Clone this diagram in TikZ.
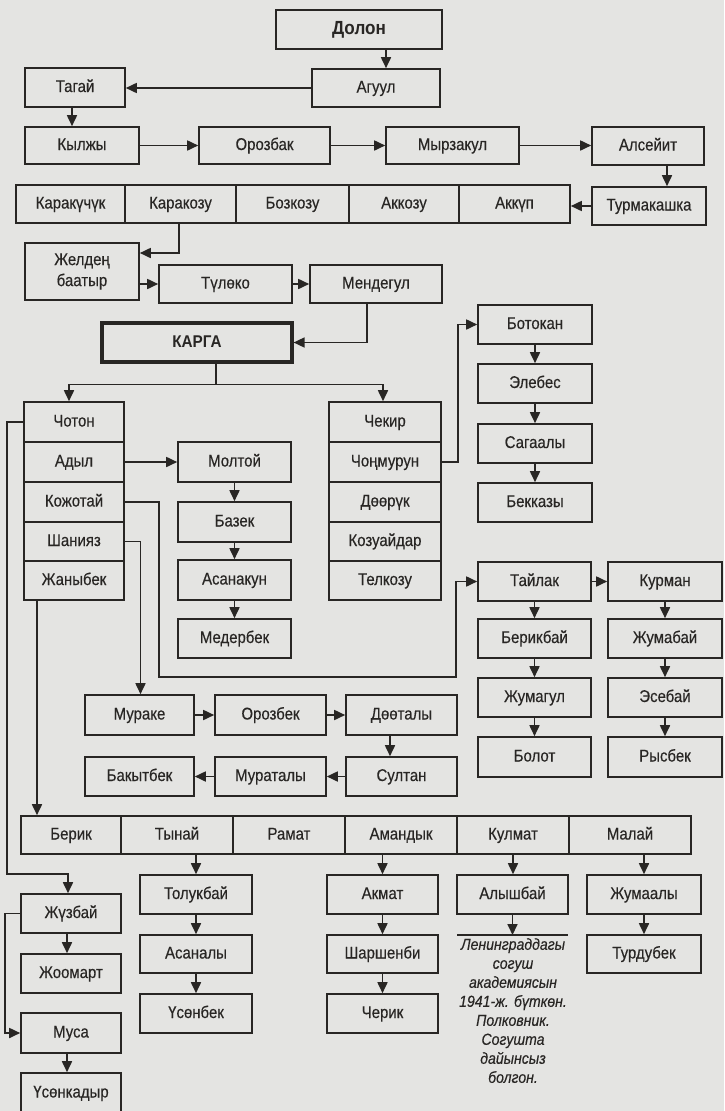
\documentclass[tikz,border=0pt]{standalone}
\usepackage{fontspec}
\setmainfont{Liberation Sans}[FakeStretch=0.88,FakeBold=0.35]
\newfontfamily\boldfam{Liberation Sans Bold}[FakeStretch=0.9]
\usetikzlibrary{arrows.meta}
\definecolor{ink}{RGB}{40,38,36}
\definecolor{paper}{RGB}{228,228,226}
\tikzset{
 box/.style={draw=ink, line width=1.6pt, inner sep=0pt, text=ink, align=center, font=\fontsize{17}{19}\selectfont, text height=12.5pt, text depth=3.5pt},
 arr/.style={draw=ink, line width=1.7pt, -{Triangle[length=11pt,width=10pt]}},
 ln/.style={draw=ink, line width=1.7pt},
 note/.style={text=ink, align=center, inner sep=0pt, font=\fontsize{16}{19}\itshape\selectfont},
}
\newcommand\B[7][]{\node[box,minimum width={(#4-#3)*1pt},minimum height={(#6-#5)*1pt},#1] (#2) at ({(#3+#4)/2},{(#5+#6)/2}) {#7};}
\begin{document}
\begin{tikzpicture}[x=1pt,y=-1pt]
\fill[paper] (0,0) rectangle (724,1111);
\useasboundingbox (0,0) rectangle (724,1111);
% row 1-3
\B[font=\fontsize{19}{21}\boldfam\selectfont, text height=14pt, text depth=4.5pt]{dol}{276}{442}{10}{49}{Долон}
\B{agu}{312}{440}{69}{107}{Агуул}
\B{tag}{25}{125}{68}{107}{Тагай}
\B{kyl}{25}{139}{127}{164}{Кылжы}
\B{oroz}{199}{330}{127}{164}{Орозбак}
\B{myr}{386}{519}{127}{164}{Мырзакул}
\B{als}{592}{704}{127}{165}{Алсейит}
% row 4
\B{karak}{16}{125}{185}{223}{Каракүчүк}
\B{karakoz}{125}{236}{185}{223}{Каракозу}
\B{boz}{236}{349}{185}{223}{Бозкозу}
\B{akkoz}{349}{459}{185}{223}{Аккозу}
\B{akkup}{459}{570}{185}{223}{Аккүп}
\B{tur}{592}{706}{187}{225}{Турмакашка}
% row 5
\B[text height={}, text depth={}, font=\fontsize{17}{21}\selectfont]{zhel}{25}{139}{243}{300}{Желдең\\баатыр}
\B{tul}{159}{292}{265}{303}{Түлөко}
\B{men}{310}{442}{265}{303}{Мендегул}
\B[line width=3.2pt,font=\fontsize{17}{19}\boldfam\selectfont]{karga}{102}{292}{323}{362}{КАРГА}
% Botokan column
\B{bot}{478}{592}{305}{344}{Ботокан}
\B{ele}{478}{592}{364}{403}{Элебес}
\B{sag}{478}{592}{424}{463}{Сагаалы}
\B{bek}{478}{592}{483}{522}{Бекказы}
% Choton column
\B{chot}{24}{124}{402}{442}{Чотон}
\B{adyl}{24}{124}{442}{482}{Адыл}
\B{kozh}{24}{124}{482}{522}{Кожотай}
\B{shan}{24}{124}{522}{561}{Шанияз}
\B{zhan}{24}{124}{561}{600}{Жаныбек}
% Chekir column
\B{chek}{329}{441}{402}{442}{Чекир}
\B{chon}{329}{441}{442}{482}{Чоңмурун}
\B{door}{329}{441}{482}{522}{Дөөрүк}
\B{kozu}{329}{441}{522}{561}{Козуайдар}
\B{telk}{329}{441}{561}{600}{Телкозу}
% Moltoy column
\B{molt}{178}{291}{442}{482}{Молтой}
\B{baz}{178}{291}{502}{542}{Базек}
\B{asan}{178}{291}{560}{600}{Асанакун}
\B{meder}{178}{291}{619}{658}{Медербек}
% Taylak / Kurman
\B{tay}{478}{591}{562}{601}{Тайлак}
\B{kur}{608}{722}{562}{601}{Курман}
\B{berb}{478}{591}{619}{658}{Берикбай}
\B{zhumab}{608}{722}{619}{658}{Жумабай}
\B{zhumag}{478}{591}{678}{717}{Жумагул}
\B{eseb}{608}{722}{678}{717}{Эсебай}
\B{bolot}{478}{591}{737}{777}{Болот}
\B{rysb}{608}{722}{737}{777}{Рысбек}
% Murake rows
\B{mur}{85}{194}{695}{735}{Мураке}
\B{orozb}{215}{326}{695}{735}{Орозбек}
\B{doot}{346}{457}{695}{735}{Дөөталы}
\B{bakyt}{85}{194}{757}{796}{Бакытбек}
\B{murat}{215}{326}{757}{796}{Мураталы}
\B{sult}{346}{457}{757}{796}{Султан}
% Berik row
\B{berik}{21}{121}{816}{854}{Берик}
\B{tyn}{121}{233}{816}{854}{Тынай}
\B{ram}{233}{345}{816}{854}{Рамат}
\B{aman}{345}{457}{816}{854}{Амандык}
\B{kulm}{457}{569}{816}{854}{Кулмат}
\B{malay}{569}{691}{816}{854}{Малай}
% lower rows
\B{tol}{140}{252}{875}{914}{Толукбай}
\B{akm}{327}{438}{875}{914}{Акмат}
\B{aly}{457}{568}{875}{914}{Алышбай}
\B{zhumaa}{587}{701}{875}{914}{Жумаалы}
\B{asanaly}{140}{252}{935}{973}{Асаналы}
\B{shar}{327}{438}{935}{973}{Шаршенби}
\B{turd}{587}{701}{935}{973}{Турдубек}
\B{usonb}{140}{252}{994}{1033}{Үсөнбек}
\B{cherik}{327}{438}{994}{1033}{Черик}
% left bottom column
\B{zhuz}{21}{121}{894}{933}{Жүзбай}
\B{zhoom}{21}{121}{954}{993}{Жоомарт}
\B{musa}{21}{121}{1013}{1053}{Муса}
\B{usonk}{21}{121}{1073}{1113}{Үсөнкадыр}
% note
\coordinate (nl) at (457,935);
\coordinate (nr) at (568,935);
\draw[ln] (nl) -- (nr);
\node[note, anchor=north] (note) at (513,938) {Ленинграддагы\\согуш\\академиясын\\1941-ж. бүткөн.\\Полковник.\\Согушта\\дайынсыз\\болгон.};
% bend coordinates
\coordinate (kbot) at (159,677);
\coordinate (lbot) at (7,874);
% connectors
\draw[arr] ([xshift=27pt]dol.south) -- ([xshift=27pt]dol.south |- agu.north);
\draw[arr] (agu.west) -- (agu.west -| tag.east);
\draw[arr] ([xshift=-3pt]tag.south) -- ([xshift=-3pt]tag.south |- kyl.north);
\draw[arr] (kyl.east) -- (kyl.east -| oroz.west);
\draw[arr] (oroz.east) -- (oroz.east -| myr.west);
\draw[arr] (myr.east) -- (myr.east -| als.west);
\draw[arr] ([xshift=19pt]als.south) -- ([xshift=19pt]als.south |- tur.north);
\draw[arr] (tur.west) -- (tur.west -| akkup.east);
\draw[arr] ([xshift=-1.5pt]karakoz.south) |- ([yshift=18.5pt]zhel.east);
\draw[arr] (tul.west -| zhel.east) -- (tul.west);
\draw[arr] (tul.east) -- (men.west);
\draw[arr] ([xshift=-9pt]men.south) |- (karga.east);
\coordinate (split) at ([xshift=19pt,yshift=-21pt]karga.south);
\draw[ln] ([xshift=19pt]karga.south) -- (split);
\draw[arr] (split) -| ([xshift=-5pt]chot.north);
\draw[arr] (split) -| ([xshift=-2pt]chek.north);
\draw[arr] (chon.east) -| ([xshift=-19pt]bot.west) -- (bot.west);
\draw[arr] (bot.south) -- (ele.north);
\draw[arr] (ele.south) -- (sag.north);
\draw[arr] (sag.south) -- (bek.north);
\draw[arr] (adyl.east) -- (adyl.east -| molt.west);
\draw[arr] (molt.south) -- (baz.north);
\draw[arr] (baz.south) -- (asan.north);
\draw[arr] (asan.south) -- (meder.north);
\draw[arr] (kozh.east) -| (kbot) -| ([xshift=-21pt]tay.west) -- (tay.west);
\draw[arr] (tay.east) -- (kur.west);
\draw[arr] (tay.south) -- (berb.north);
\draw[arr] (berb.south) -- (zhumag.north);
\draw[arr] (zhumag.south) -- (bolot.north);
\draw[arr] (kur.south) -- (zhumab.north);
\draw[arr] (zhumab.south) -- (eseb.north);
\draw[arr] (eseb.south) -- (rysb.north);
\draw[arr] (shan.east) -| ([xshift=1pt]mur.north);
\draw[arr] (mur.east) -- (orozb.west);
\draw[arr] (orozb.east) -- (doot.west);
\draw[arr] ([xshift=-11.5pt]doot.south) -- ([xshift=-11.5pt]doot.south |- sult.north);
\draw[arr] (sult.west) -- (murat.east);
\draw[arr] (murat.west) -- (bakyt.east);
\draw[arr] ([xshift=-37pt]zhan.south) -- ([xshift=-37pt]zhan.south |- berik.north);
\draw[arr] (chot.west) -| (lbot) -| ([xshift=-3pt]zhuz.north);
\draw[arr] (tol.north |- tyn.south) -- (tol.north);
\draw[arr] (akm.north |- aman.south) -- (akm.north);
\draw[arr] (kulm.south) -- (kulm.south |- aly.north);
\draw[arr] (zhumaa.north |- malay.south) -- (zhumaa.north);
\draw[arr] (tol.south) -- (asanaly.north);
\draw[arr] (akm.south) -- (shar.north);
\draw[arr] (aly.south) -- (aly.south |- nl);
\draw[arr] (zhumaa.south) -- (turd.north);
\draw[arr] (asanaly.south) -- (usonb.north);
\draw[arr] (shar.south) -- (cherik.north);
\draw[arr] ([xshift=-4pt]zhuz.south) -- ([xshift=-4pt]zhuz.south |- zhoom.north);
\draw[arr] (zhuz.west) -| ([xshift=-15pt]musa.west) -- (musa.west);
\draw[arr] ([xshift=-4pt]musa.south) -- ([xshift=-4pt]musa.south |- usonk.north);
\end{tikzpicture}
\end{document}
